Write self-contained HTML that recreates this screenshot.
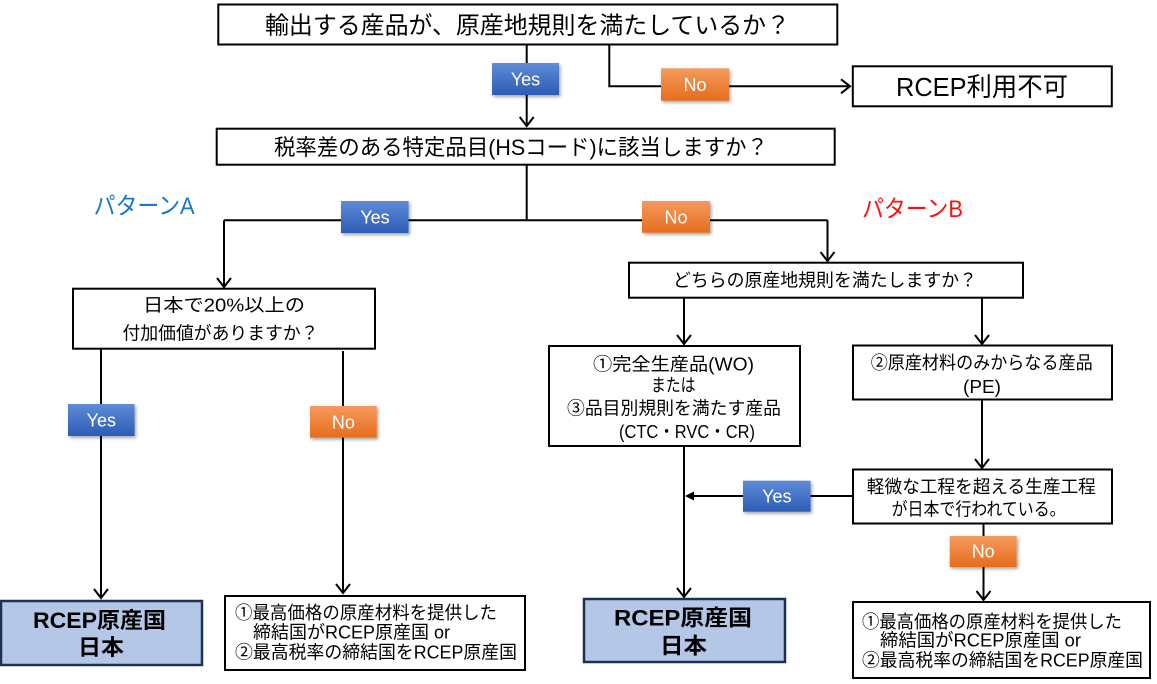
<!DOCTYPE html>
<html><head><meta charset="utf-8">
<style>
html,body{margin:0;padding:0;background:#fff;}
svg{display:block;}
text{font-family:"Liberation Sans","Noto Sans CJK JP",sans-serif;fill:#000;}
.b{fill:#fff;font-size:18px;}
</style></head>
<body>
<svg width="1157" height="684" viewBox="0 0 1157 684" xmlns="http://www.w3.org/2000/svg">
<defs>
<linearGradient id="gb" x1="0" y1="0" x2="0" y2="1"><stop offset="0" stop-color="#5f8bd8"/><stop offset="1" stop-color="#2d5cb5"/></linearGradient>
<linearGradient id="go" x1="0" y1="0" x2="0" y2="1"><stop offset="0" stop-color="#f59a5f"/><stop offset="1" stop-color="#e56d1c"/></linearGradient>
<filter id="sh" x="-20%" y="-20%" width="150%" height="160%"><feDropShadow dx="1.5" dy="2" stdDeviation="1.5" flood-color="#000" flood-opacity="0.35"/></filter>
</defs>

<g fill="none" stroke="#000" stroke-width="2">
<!-- boxes -->
<rect x="218.3" y="4.5" width="619" height="40"/>
<rect x="852.8" y="66.3" width="259" height="40"/>
<rect x="216.7" y="128.7" width="618" height="36"/>
<rect x="73" y="288.7" width="302" height="60"/>
<rect x="629" y="262.7" width="394" height="35"/>
<rect x="549" y="346" width="251" height="100"/>
<rect x="853" y="345.5" width="259" height="54"/>
<rect x="853" y="469.5" width="259" height="54"/>
<rect x="225" y="596" width="300" height="74"/>
<rect x="853" y="602" width="297" height="76"/>

<!-- connectors -->
<path d="M526.7 45 V126"/>
<polyline points="519.7,117 526.7,126 533.7,117"/>
<path d="M609.3 45 V86.3 H849"/>
<polyline points="841,79.3 850,86.3 841,93.3"/>
<path d="M526.7 165 V220.3 M224 220.3 H827.5 M224 220.3 V286 M827.5 220.3 V260"/>
<polyline points="217,278 224,287 231,278"/>
<polyline points="820.5,252 827.5,261 834.5,252"/>
<path d="M101 349 V598"/>
<polyline points="94,589 101,598 108,589"/>
<path d="M343 351 V593"/>
<polyline points="336,584 343,593 350,584"/>
<path d="M684 298 V344"/>
<polyline points="677,335 684,344 691,335"/>
<path d="M982 298 V344"/>
<polyline points="975,335 982,344 989,335"/>
<path d="M684 446 V597"/>
<polyline points="677,588 684,597 691,588"/>
<path d="M982 400 V468"/>
<polyline points="975,459 982,468 989,459"/>
<path d="M852 496 H690"/>
<path d="M983.5 523 V600"/>
<polyline points="976.5,591 983.5,600 990.5,591"/>
</g>
<polygon points="685,496 694,491.5 694,500.5" fill="#000"/>

<!-- filled result boxes -->
<rect x="1" y="601" width="201" height="64" fill="#b4c7e7" stroke="#1f3050" stroke-width="2.5"/>
<rect x="584" y="599" width="201" height="63" fill="#b4c7e7" stroke="#1f3050" stroke-width="2.5"/>

<!-- badges -->
<g filter="url(#sh)">
<rect x="492" y="63" width="67" height="32" fill="url(#gb)"/>
<rect x="661" y="68.3" width="68" height="32.4" fill="url(#go)"/>
<rect x="341" y="201" width="67.6" height="32" fill="url(#gb)"/>
<rect x="642" y="201" width="68" height="31.7" fill="url(#go)"/>
<rect x="68" y="404" width="66.6" height="32" fill="url(#gb)"/>
<rect x="310" y="406" width="66.8" height="31.7" fill="url(#go)"/>
<rect x="743" y="480.7" width="67.6" height="31" fill="url(#gb)"/>
<rect x="949.7" y="536" width="67" height="31" fill="url(#go)"/>
</g>
<text class="b" x="525.5" y="85.5" text-anchor="middle">Yes</text>
<text class="b" x="695" y="91" text-anchor="middle">No</text>
<text class="b" x="375" y="223.5" text-anchor="middle">Yes</text>
<text class="b" x="676" y="223.5" text-anchor="middle">No</text>
<text class="b" x="101.3" y="426.5" text-anchor="middle">Yes</text>
<text class="b" x="343.4" y="428.5" text-anchor="middle">No</text>
<text class="b" x="776.8" y="502.5" text-anchor="middle">Yes</text>
<text class="b" x="983.2" y="557.5" text-anchor="middle">No</text>

<!-- texts -->
<text x="265" y="33.5" font-size="24" textLength="525" lengthAdjust="spacingAndGlyphs">輸出する産品が、原産地規則を満たしているか？</text>
<text x="896" y="96" font-size="26" textLength="172" lengthAdjust="spacingAndGlyphs">RCEP利用不可</text>
<text x="274" y="155" font-size="22" textLength="494" lengthAdjust="spacingAndGlyphs">税率差のある特定品目(HSコード)に該当しますか？</text>
<text x="93.6" y="214" font-size="24" textLength="101" lengthAdjust="spacingAndGlyphs" style="fill:#1a78c8">パターンA</text>
<text x="862" y="217" font-size="24" textLength="101" lengthAdjust="spacingAndGlyphs" style="fill:#ff1010">パターンB</text>

<text x="143" y="311.5" font-size="18" textLength="162" lengthAdjust="spacingAndGlyphs">日本で20%以上の</text>
<text x="122.5" y="339.5" font-size="18" textLength="196" lengthAdjust="spacingAndGlyphs">付加価値がありますか？</text>

<text x="673" y="286.5" font-size="18" textLength="304" lengthAdjust="spacingAndGlyphs">どちらの原産地規則を満たしますか？</text>

<text x="593" y="370.5" font-size="18" textLength="161" lengthAdjust="spacingAndGlyphs">①完全生産品(WO)</text>
<text x="651" y="391.5" font-size="18" textLength="44.5" lengthAdjust="spacingAndGlyphs">または</text>
<text x="567" y="414.5" font-size="18" textLength="214" lengthAdjust="spacingAndGlyphs">③品目別規則を満たす産品</text>
<text x="619" y="438" font-size="18" textLength="136" lengthAdjust="spacingAndGlyphs">(CTC・RVC・CR)</text>

<text x="870.7" y="369" font-size="18" textLength="222" lengthAdjust="spacingAndGlyphs">②原産材料のみからなる産品</text>
<text x="963" y="393" font-size="18" textLength="38" lengthAdjust="spacingAndGlyphs">(PE)</text>

<text x="866.8" y="493" font-size="18" textLength="229" lengthAdjust="spacingAndGlyphs">軽微な工程を超える生産工程</text>
<text x="891.6" y="515.5" font-size="18" textLength="174" lengthAdjust="spacingAndGlyphs">が日本で行われている。</text>

<text x="33" y="628" font-size="22" font-weight="bold" textLength="133" lengthAdjust="spacingAndGlyphs">RCEP原産国</text>
<text x="78" y="655" font-size="22" font-weight="bold" textLength="46" lengthAdjust="spacingAndGlyphs">日本</text>
<text x="614" y="625.5" font-size="22" font-weight="bold" textLength="138" lengthAdjust="spacingAndGlyphs">RCEP原産国</text>
<text x="660" y="653.5" font-size="22" font-weight="bold" textLength="47" lengthAdjust="spacingAndGlyphs">日本</text>

<text x="235" y="619" font-size="18" textLength="262" lengthAdjust="spacingAndGlyphs">①最高価格の原産材料を提供した</text>
<text x="253" y="638.5" font-size="18" textLength="197" lengthAdjust="spacingAndGlyphs">締結国がRCEP原産国 or</text>
<text x="235" y="658.5" font-size="18" textLength="282" lengthAdjust="spacingAndGlyphs">②最高税率の締結国をRCEP原産国</text>

<text x="862" y="628" font-size="18" textLength="260" lengthAdjust="spacingAndGlyphs">①最高価格の原産材料を提供した</text>
<text x="880" y="646.5" font-size="18" textLength="201" lengthAdjust="spacingAndGlyphs">締結国がRCEP原産国 or</text>
<text x="862" y="666.5" font-size="18" textLength="281" lengthAdjust="spacingAndGlyphs">②最高税率の締結国をRCEP原産国</text>
</svg>
</body></html>
